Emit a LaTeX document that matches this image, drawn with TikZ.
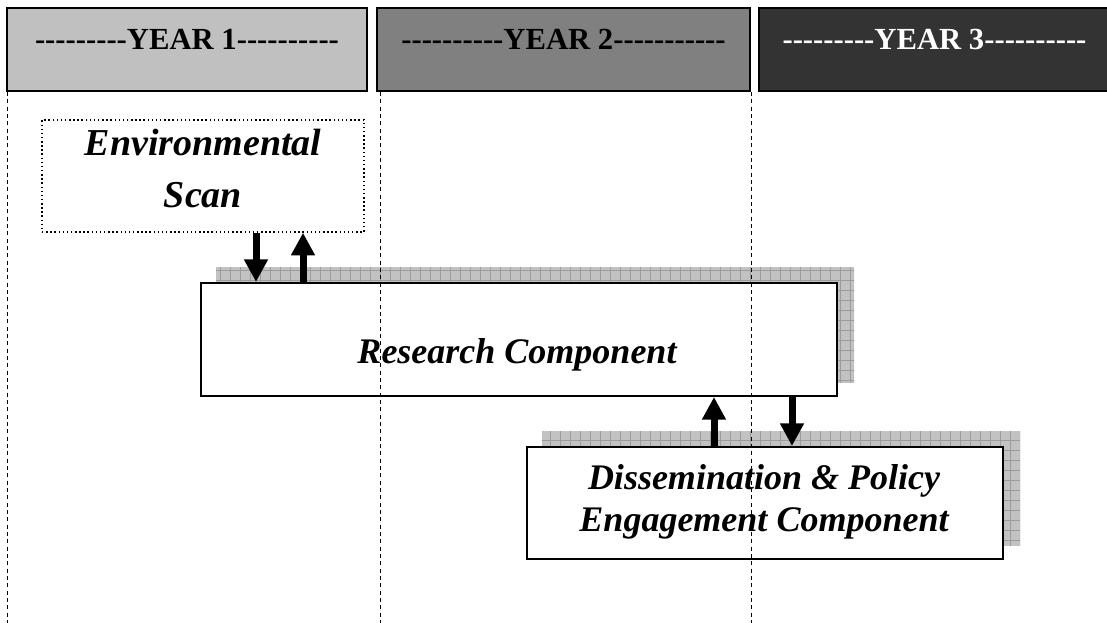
\documentclass[tikz,border=0pt]{standalone}
\usepackage{fontspec}
\setmainfont{Liberation Serif}
\newfontfamily\yearfont{Liberation Serif}[Ligatures=TeXOff]
\usepackage{tikz}
\usetikzlibrary{arrows.meta,backgrounds}

\definecolor{yearone}{HTML}{C0C0C0}
\definecolor{yeartwo}{HTML}{808080}
\definecolor{yearthree}{HTML}{333333}
\definecolor{shadowfill}{HTML}{C2C2C2}
\definecolor{shadowgrid}{HTML}{9C9C9C}

\tikzset{
  yearbox/.style={draw, line width=1.5pt, minimum height=62.25pt, inner sep=0pt},
  yeartext/.style={font=\yearfont\bfseries\fontsize{23}{27}\selectfont, inner sep=0pt},
  compbox/.style={draw, fill=white, line width=1.5pt, inner sep=0pt},
  comptext/.style={font=\bfseries\itshape\fontsize{27}{31.5}\selectfont, align=center, inner sep=0pt},
  flowarrow/.style={line width=5.25pt, -{Triangle[width=17pt,length=17pt]}},
  yearline/.style={line width=0.6pt, dash pattern=on 3pt off 2.5pt}
}

\begin{document}
\begin{tikzpicture}[x=0.75pt,y=-0.75pt]
    \useasboundingbox (0,0) rectangle (1107,622);

    % Year headers
    \node[yearbox, fill=yearone, minimum width=270pt] (y1) at (187,49.5) {};
    \node[yearbox, fill=yeartwo, minimum width=279.75pt] (y2) at (563.5,49.5) {};
    \node[yearbox, fill=yearthree, minimum width=263.25pt] (y3) at (934.5,49.5) {};
    \node[yeartext, anchor=base] (t1) at (y1.center) {---------YEAR 1----------};
    \node[yeartext, anchor=base] (t2) at (y2.center) {----------YEAR 2-----------};
    \node[yeartext, anchor=base, text=white] (t3) at (y3.center) {---------YEAR 3----------};

    % Boxes
    \node[draw, line width=1.1pt, dotted, minimum width=241.5pt, minimum height=84pt, inner sep=0pt] (env) at (203,176) {};
    \node[comptext, font=\bfseries\itshape\fontsize{28.5}{39}\selectfont] (envtxt) at (203,169) {Environmental\\Scan};

    \node[compbox, minimum width=477pt, minimum height=84.75pt] (res) at (519,339.5) {};
    \node[comptext, anchor=base] (restxt) at (517,363) {Research Component};

    \node[compbox, minimum width=357pt, minimum height=84pt] (diss) at (765,503) {};
    \node[comptext] (disstxt) at (764,501.5) {Dissemination \& Policy\\Engagement Component};

    % Shadows behind the two components
    \begin{pgfonlayer}{background}
    \foreach \b in {res,diss} {
        \begin{scope}
            \clip ([shift={(16,-15)}]\b.south west) rectangle ([shift={(16,-15)}]\b.north east);
            \fill[shadowfill] (0,0) rectangle (1107,622);
            \draw[shadowgrid, line width=0.5pt, step=7.5pt] (0,0) grid (1107,622);
        \end{scope}
    }
    \end{pgfonlayer}

    % Arrows
    \coordinate (a1) at (256,0);
    \coordinate (a2) at (303,0);
    \coordinate (a3) at (714,0);
    \coordinate (a4) at (792,0);
    \draw[flowarrow] (env.south -| a1) -- (res.north -| a1);
    \draw[flowarrow] (res.north -| a2) -- (env.south -| a2);
    \draw[flowarrow] (diss.north -| a3) -- (res.south -| a3);
    \draw[flowarrow] (res.south -| a4) -- (diss.north -| a4);

    % Year lines
    \draw[yearline] ([xshift=0.75pt]y1.south west) -- +(0,531);
    \draw[yearline] ([xshift=3pt]y2.south west) -- +(0,531);
    \draw[yearline] (y2.south east) -- +(0,531);
\end{tikzpicture}
\end{document}
